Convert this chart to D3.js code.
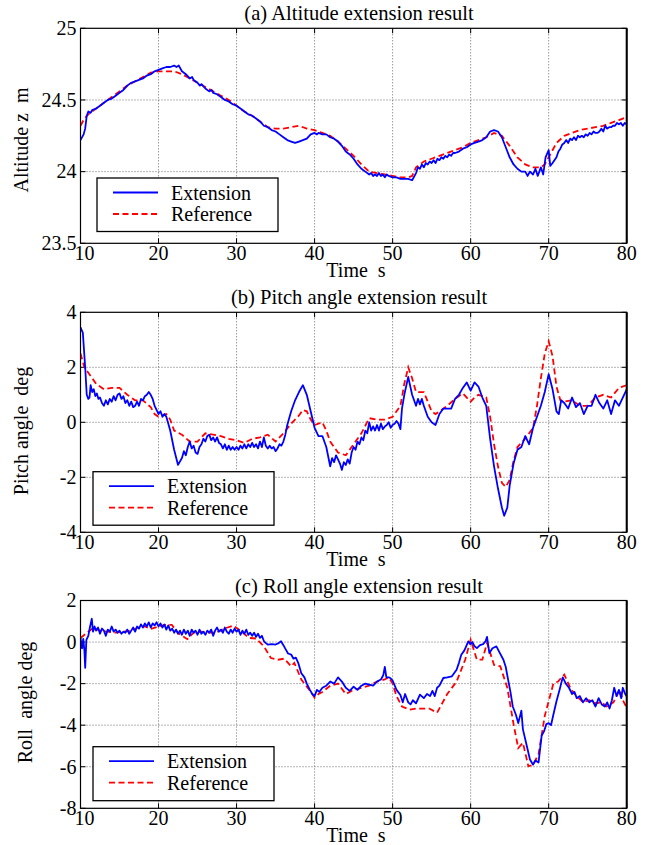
<!DOCTYPE html>
<html><head><meta charset="utf-8">
<script src="https://cdn.jsdelivr.net/npm/d3@7/dist/d3.min.js"></script>
<style>
body{margin:0;background:#fff;}
</style></head><body>
<svg id="c" width="661" height="845" font-family="'Liberation Serif', 'Times New Roman', Tinos, 'DejaVu Serif', serif"></svg>
<script>
// ---------- DATA ----------
const xTicks = [10,20,30,40,50,60,70,80];
const altTicks = [23.5,24,24.5,25];
const pitchTicks = [-4,-2,0,2,4];
const rollTicks = [-8,-6,-4,-2,0,2];
const seriesNames = ["Extension","Reference"];
const titles = ["(a) Altitude extension result","(b) Pitch angle extension result","(c) Roll angle extension result"];
const yLabels = ["Altitude z\u00a0\u00a0m","Pitch angle\u00a0\u00a0deg","Roll\u00a0\u00a0angle deg"];
const xLabel = "Time\u00a0\u00a0s";

const altExt = [[10,24.22],[10.4,24.26],[10.6,24.30],[10.8,24.39],[11,24.42],[11.3,24.41],[11.5,24.43],[12,24.44],[12.5,24.46],[13,24.48],[13.5,24.50],[14,24.51],[14.5,24.53],[15,24.55],[15.5,24.57],[16,24.60],[16.5,24.62],[17,24.63],[17.5,24.64],[18,24.65],[18.5,24.67],[19,24.68],[19.5,24.70],[20,24.71],[20.5,24.72],[21,24.73],[21.5,24.73],[22,24.74],[22.3,24.73],[22.6,24.74],[23,24.70],[23.5,24.68],[24,24.65],[24.3,24.66],[24.5,24.64],[25,24.62],[25.3,24.60],[25.5,24.61],[26,24.58],[26.5,24.56],[26.8,24.57],[27,24.55],[27.5,24.54],[28,24.52],[28.5,24.50],[29,24.49],[29.5,24.47],[30,24.46],[30.5,24.44],[31,24.42],[31.5,24.40],[32,24.39],[32.5,24.37],[33,24.35],[33.5,24.32],[34,24.31],[34.5,24.29],[35,24.28],[35.5,24.26],[36,24.24],[36.5,24.22],[37,24.21],[37.5,24.20],[38,24.21],[38.5,24.22],[39,24.23],[39.5,24.26],[40,24.27],[40.3,24.26],[40.5,24.27],[41,24.26],[41.5,24.26],[42,24.24],[42.5,24.23],[43,24.21],[43.5,24.18],[44,24.14],[44.5,24.12],[45,24.09],[45.5,24.05],[46,24.02],[46.5,24.00],[47,23.98],[47.25,23.99],[47.5,23.97],[47.75,23.98],[48,23.97],[48.25,23.99],[48.5,23.97],[48.75,23.98],[49,23.96],[49.25,23.98],[49.5,23.97],[50,23.96],[50.5,23.96],[51,23.95],[51.5,23.95],[52,23.95],[52.5,23.94],[53,23.99],[53.25,24.03],[53.5,24.02],[53.75,24.05],[54,24.03],[54.25,24.06],[54.5,24.05],[54.75,24.07],[55,24.06],[55.25,24.08],[55.5,24.06],[55.75,24.09],[56,24.08],[56.25,24.10],[56.5,24.09],[56.75,24.11],[57,24.10],[57.25,24.12],[57.5,24.11],[57.75,24.13],[58,24.13],[58.5,24.14],[59,24.16],[59.5,24.17],[60,24.19],[60.5,24.20],[61,24.21],[61.5,24.22],[62,24.24],[62.5,24.28],[63,24.29],[63.5,24.28],[64,24.24],[64.5,24.17],[65,24.10],[65.5,24.05],[66,24.02],[66.5,24.00],[67,24.00],[67.3,23.97],[67.6,24.00],[68,23.98],[68.3,24.02],[68.6,23.97],[69,24.03],[69.3,23.98],[69.6,24.10],[70,24.15],[70.2,24.04],[70.5,24.06],[71,24.10],[71.25,24.14],[71.5,24.16],[71.75,24.19],[72,24.20],[72.25,24.22],[72.5,24.20],[72.75,24.23],[73,24.22],[73.25,24.24],[73.5,24.22],[73.75,24.25],[74,24.24],[74.25,24.25],[74.5,24.24],[74.75,24.26],[75,24.25],[75.25,24.27],[75.5,24.26],[75.75,24.28],[76,24.27],[76.25,24.27],[76.5,24.28],[76.75,24.30],[77,24.28],[77.25,24.32],[77.5,24.30],[77.75,24.31],[78,24.31],[78.25,24.32],[78.5,24.32],[78.75,24.34],[79,24.33],[79.25,24.34],[79.5,24.32],[79.75,24.34],[80,24.33]];
const altRef = [[10,24.32],[10.5,24.37],[11,24.40],[12,24.44],[13,24.48],[14,24.52],[15,24.56],[16,24.60],[17,24.63],[18,24.66],[19,24.69],[20,24.70],[21,24.70],[22,24.70],[23,24.68],[24,24.65],[25,24.62],[26,24.59],[27,24.56],[28,24.53],[29,24.50],[30,24.46],[31,24.42],[32,24.39],[33,24.35],[34,24.31],[35,24.30],[36,24.30],[37,24.31],[38,24.32],[39,24.30],[40,24.29],[41,24.27],[42,24.25],[43,24.21],[44,24.16],[45,24.11],[46,24.05],[47,24.00],[48,23.99],[49,23.98],[50,23.97],[51,23.96],[52,23.96],[52.5,23.97],[53,24.03],[54,24.07],[55,24.09],[56,24.11],[57,24.13],[58,24.15],[59,24.17],[60,24.20],[61,24.22],[62,24.24],[63,24.27],[64,24.25],[65,24.18],[66,24.10],[67,24.05],[68,24.03],[69,24.03],[69.5,24.05],[70,24.10],[71,24.20],[72,24.25],[73,24.27],[74,24.29],[75,24.30],[76,24.31],[77,24.32],[78,24.34],[79,24.36],[80,24.38]];

const pitchExt = [[10,3.45],[10.3,3.25],[10.6,2.0],[10.8,1.0],[11,0.85],[11.15,0.9],[11.3,1.35],[11.5,1.1],[11.7,1.2],[11.9,0.95],[12.1,1.05],[12.3,0.85],[12.5,0.9],[12.75,0.7],[13,0.6],[13.25,0.8],[13.5,0.65],[13.75,0.85],[14,0.75],[14.25,0.95],[14.5,0.8],[14.75,1.0],[15,1.05],[15.25,0.85],[15.5,0.95],[15.75,0.7],[16,0.8],[16.25,0.6],[16.5,0.75],[16.75,0.55],[17,0.6],[17.25,0.75],[17.5,0.6],[17.75,0.85],[18,0.8],[18.25,0.95],[18.5,1.0],[18.75,1.1],[19,1.0],[19.25,0.85],[19.5,0.6],[19.75,0.45],[20,0.3],[20.25,0.4],[20.5,0.2],[20.75,0.3],[21,0.2],[21.5,-0.3],[22,-1.0],[22.5,-1.55],[23,-1.3],[23.25,-1.05],[23.5,-1.2],[23.75,-0.9],[24,-0.7],[24.25,-0.95],[24.5,-0.85],[24.75,-1.1],[25,-1.15],[25.25,-0.9],[25.5,-0.8],[25.75,-0.6],[26,-0.7],[26.25,-0.5],[26.5,-0.45],[26.75,-0.65],[27,-0.55],[27.25,-0.7],[27.5,-0.55],[27.75,-0.75],[28,-0.8],[28.25,-0.95],[28.5,-0.8],[28.75,-1.0],[29,-0.85],[29.25,-1.0],[29.5,-0.9],[29.75,-1.0],[30,-0.9],[30.25,-1.0],[30.5,-0.85],[30.75,-0.95],[31,-0.8],[31.25,-0.95],[31.5,-0.8],[31.75,-0.9],[32,-0.75],[32.25,-0.9],[32.5,-0.8],[32.75,-0.95],[33,-0.7],[33.25,-0.9],[33.5,-0.55],[33.75,-0.85],[34,-0.95],[34.25,-0.85],[34.5,-0.95],[34.75,-0.9],[35,-1.05],[35.25,-0.95],[35.5,-0.8],[35.75,-0.85],[36,-0.7],[36.25,-0.45],[36.5,-0.1],[37,0.4],[37.5,0.8],[38,1.1],[38.5,1.35],[39,1.0],[39.5,0.4],[40,-0.2],[40.5,-0.5],[41,-0.5],[41.5,-0.9],[42,-1.6],[42.25,-1.3],[42.5,-1.45],[42.75,-1.2],[43,-1.35],[43.25,-1.5],[43.5,-1.73],[43.75,-1.45],[44,-1.55],[44.25,-1.35],[44.5,-1.5],[44.75,-1.1],[45,-0.9],[45.25,-1.0],[45.5,-0.7],[45.75,-0.8],[46,-0.55],[46.25,-0.65],[46.5,-0.3],[46.75,-0.4],[47,0.0],[47.25,-0.3],[47.5,-0.15],[47.75,-0.3],[48,-0.1],[48.25,-0.3],[48.5,-0.05],[48.75,-0.25],[49,-0.15],[49.25,-0.1],[49.5,0.0],[49.75,-0.2],[50,-0.1],[50.25,-0.05],[50.5,0.05],[50.75,-0.05],[51,-0.25],[51.2,0.5],[51.5,1.0],[52,1.65],[52.5,1.0],[53,0.6],[53.25,0.85],[53.5,0.65],[53.75,0.85],[54,0.6],[54.5,0.2],[55,0.0],[55.5,-0.1],[56,0.3],[56.5,0.5],[57,0.5],[57.5,0.5],[58,0.85],[58.5,1.0],[59,1.25],[59.5,1.45],[60,1.15],[60.5,1.45],[61,1.3],[61.5,0.9],[62,0.6],[62.5,-0.6],[63,-1.6],[63.5,-2.4],[64,-3.1],[64.3,-3.4],[64.7,-3.1],[65,-2.3],[65.5,-1.5],[66,-1.0],[66.5,-0.9],[67,-0.5],[67.5,-0.8],[68,-0.2],[68.5,0.2],[69,0.6],[69.5,1.1],[70,1.75],[70.5,1.2],[71,0.4],[71.3,0.3],[71.6,0.8],[72,0.7],[72.5,0.5],[73,0.9],[73.5,0.55],[74,0.7],[74.5,0.3],[75,0.6],[75.5,0.6],[76,1.0],[76.5,0.7],[77,0.5],[77.5,0.8],[78,0.3],[78.5,0.8],[79,0.6],[79.5,0.9],[80,1.2]];
const pitchRef = [[10,2.5],[10.5,2.0],[11,1.8],[12,1.4],[13,1.2],[14,1.25],[15,1.25],[16,1.0],[17,0.8],[18,0.8],[19,0.55],[19.5,0.3],[20,0.2],[21,0.3],[21.5,0.1],[22,-0.3],[23,-0.45],[24,-0.7],[25,-0.7],[26,-0.4],[27,-0.45],[28,-0.5],[29,-0.6],[30,-0.65],[31,-0.75],[32,-0.6],[33,-0.55],[34,-0.45],[35,-0.7],[36,-0.4],[37,-0.05],[38,0.25],[38.5,0.45],[39,0.4],[39.5,0.1],[40,-0.1],[40.5,-0.05],[41,0.0],[41.5,-0.3],[42,-0.7],[43,-1.1],[44,-1.2],[45,-0.8],[46,-0.4],[47,0.15],[48,0.1],[49,0.1],[50,0.2],[51,0.6],[51.5,1.4],[52,2.0],[52.5,1.6],[53,1.1],[54,1.1],[55,0.4],[55.5,0.3],[56,0.4],[57,0.6],[58,0.85],[59,1.05],[60,0.75],[60.5,0.9],[61,1.0],[62,0.9],[62.5,0.2],[63,-0.8],[63.5,-1.6],[64,-2.2],[64.5,-2.35],[65,-2.1],[65.5,-1.4],[66,-0.9],[67,-0.6],[68,-0.2],[68.5,0.6],[69,1.6],[69.5,2.5],[70,2.95],[70.5,2.4],[71,1.3],[71.5,0.8],[72,0.75],[73,0.8],[74,0.6],[75,0.6],[76,0.9],[77,1.0],[78,0.9],[79,1.25],[80,1.35]];

const rollExt = [[10,0.2],[10.2,-0.3],[10.35,0.15],[10.5,-0.4],[10.6,-1.24],[10.75,0.1],[11,0.3],[11.2,0.7],[11.45,1.12],[11.6,0.5],[11.8,0.75],[12,0.55],[12.25,0.7],[12.5,0.4],[12.75,0.65],[13,0.55],[13.25,0.3],[13.5,0.6],[13.75,0.5],[14,0.75],[14.25,0.5],[14.5,0.6],[14.75,0.45],[15,0.55],[15.25,0.4],[15.5,0.5],[15.75,0.45],[16,0.6],[16.25,0.4],[16.5,0.55],[16.75,0.7],[17,0.5],[17.25,0.75],[17.5,0.65],[17.75,0.85],[18,0.7],[18.25,0.9],[18.5,0.75],[18.75,0.95],[19,0.7],[19.25,0.9],[19.5,0.8],[19.75,0.95],[20,0.75],[20.25,0.9],[20.5,0.7],[20.75,0.85],[21,0.6],[21.25,0.8],[21.5,0.55],[21.75,0.65],[22,0.45],[22.25,0.6],[22.5,0.4],[22.75,0.55],[23,0.35],[23.25,0.6],[23.5,0.4],[23.75,0.55],[24,0.3],[24.25,0.6],[24.5,0.45],[24.75,0.55],[25,0.35],[25.25,0.6],[25.5,0.4],[25.75,0.5],[26,0.35],[26.25,0.55],[26.5,0.45],[26.75,0.6],[27,0.3],[27.25,0.55],[27.5,0.7],[27.75,0.5],[28,0.6],[28.25,0.45],[28.5,0.7],[28.75,0.5],[29,0.4],[29.25,0.6],[29.5,0.45],[29.75,0.65],[30,0.5],[30.25,0.6],[30.5,0.35],[30.75,0.55],[31,0.4],[31.25,0.6],[31.5,0.35],[31.75,0.45],[32,0.3],[32.25,0.45],[32.5,0.25],[32.75,0.4],[33,0.2],[33.25,0.3],[33.5,0.05],[33.75,-0.05],[34,-0.12],[34.5,-0.1],[35,-0.12],[35.4,-0.05],[35.7,0.04],[36,-0.15],[36.3,-0.35],[36.6,-0.55],[37,-0.6],[37.3,-0.8],[37.6,-0.75],[37.9,-1.0],[38.3,-1.5],[38.7,-1.7],[39,-2.0],[39.4,-2.3],[39.7,-2.5],[40,-2.6],[40.3,-2.3],[40.6,-2.4],[41,-2.2],[41.5,-2.1],[42,-1.9],[42.5,-2.0],[43,-1.7],[43.5,-1.9],[44,-2.2],[44.5,-2.35],[45,-2.15],[45.5,-2.3],[46,-2.1],[46.5,-2.0],[47,-2.05],[47.5,-2.1],[48,-1.9],[48.5,-1.8],[48.8,-1.6],[49,-1.2],[49.2,-1.7],[49.5,-1.7],[49.7,-1.73],[50,-1.85],[50.5,-2.3],[51,-2.55],[51.3,-2.9],[51.6,-2.5],[52,-2.9],[52.3,-3.0],[52.6,-2.8],[53,-2.95],[53.5,-2.53],[54,-2.7],[54.4,-2.5],[54.8,-2.6],[55.1,-2.35],[55.4,-2.6],[55.7,-2.2],[56,-2.1],[56.5,-1.73],[57,-1.7],[57.6,-1.65],[58.2,-1.33],[58.5,-1.0],[58.8,-0.61],[59.2,-0.4],[59.7,0.03],[60,-0.1],[60.2,0.0],[60.5,-0.2],[60.8,-0.29],[61.2,-0.15],[61.6,-0.1],[61.9,0.03],[62.1,0.25],[62.4,-0.53],[62.8,-0.3],[63.3,-0.21],[63.7,-0.5],[64.2,-0.85],[64.5,-1.2],[64.8,-1.81],[65.1,-2.4],[65.4,-3.1],[65.8,-3.5],[66.1,-3.9],[66.5,-3.3],[66.7,-4.2],[67.2,-5.0],[67.6,-5.65],[68,-5.9],[68.3,-5.7],[68.7,-5.8],[69.1,-4.5],[69.4,-4.3],[69.7,-3.95],[70,-3.9],[70.3,-4.0],[70.6,-3.5],[71,-2.85],[71.4,-2.3],[71.8,-1.7],[72.2,-2.0],[72.6,-2.2],[73,-2.5],[73.3,-2.4],[73.6,-2.7],[74,-2.6],[74.4,-2.9],[74.8,-2.7],[75.2,-2.9],[75.6,-2.8],[76,-3.1],[76.4,-2.7],[76.8,-3.0],[77.2,-3.1],[77.5,-2.9],[77.8,-3.2],[78.1,-2.8],[78.4,-2.2],[78.7,-2.6],[79,-2.3],[79.3,-2.7],[79.5,-2.2],[79.8,-2.5],[80,-2.6]];
const rollRef = [[10,0.19],[11,0.5],[11.6,0.67],[12.5,0.55],[13.5,0.5],[14.5,0.45],[15.5,0.5],[16.5,0.55],[17.5,0.72],[18.3,0.75],[19,0.63],[20,0.75],[20.8,0.83],[21.7,0.83],[22.5,0.43],[23.7,0.14],[24.5,0.45],[25.5,0.5],[26.5,0.45],[27.3,0.45],[28.6,0.67],[29.6,0.79],[30.5,0.55],[31.6,0.2],[32.5,0.17],[33.5,-0.2],[34.4,-0.77],[35.3,-0.85],[36.1,-0.8],[37,-1.17],[37.4,-1.0],[38.3,-1.8],[39.6,-2.44],[40,-2.68],[40.5,-2.5],[41,-2.4],[42,-2.1],[43,-2.0],[44,-2.5],[45,-2.3],[46,-2.2],[47,-2.1],[48,-1.9],[49,-1.8],[49.5,-1.7],[50,-2.0],[50.5,-2.6],[51.2,-3.1],[52.2,-3.25],[53,-3.2],[54,-3.2],[54.7,-3.2],[55.7,-3.4],[57,-2.5],[58.2,-1.9],[59.3,-0.85],[60,0.11],[60.8,-0.85],[61.5,-0.85],[62.1,-0.05],[63,-1.1],[63.8,-1.17],[64.7,-2.2],[65.5,-3.95],[66.1,-5.1],[66.7,-4.85],[67.4,-5.98],[68,-5.9],[68.7,-5.4],[69.5,-3.55],[70.6,-2.0],[71.2,-1.9],[72,-1.57],[72.9,-2.3],[73.6,-2.6],[74.4,-2.9],[75.2,-2.8],[76.1,-2.95],[76.8,-2.9],[77.4,-3.1],[78.3,-2.9],[79.1,-2.3],[79.5,-2.8],[80,-3.15]];

// ---------- LAYOUT ----------
const svg = d3.select("#c");
const L = 80.5, R = 626.7;
const panels = [
  {top:28.3, bottom:243.3, dom:[23.5,25], ticks:altTicks, ext:altExt, ref:altRef,
   leg:{x:97, y:178, w:181, h:53.5}, ylabX:27.5, ylabY:140},
  {top:312.3, bottom:532.3, dom:[-4,4], ticks:pitchTicks, ext:pitchExt, ref:pitchRef,
   leg:{x:93, y:471.7, w:181, h:53.5}, ylabX:28.3, ylabY:431},
  {top:600.5, bottom:808.3, dom:[-8,2], ticks:rollTicks, ext:rollExt, ref:rollRef,
   leg:{x:93, y:746.7, w:181, h:54}, ylabX:32, ylabY:702.5}
];
const FS = 20;

panels.forEach((p,i)=>{
  const x = d3.scaleLinear().domain([10,80]).range([L,R]);
  const y = d3.scaleLinear().domain(p.dom).range([p.bottom,p.top]);
  const g = svg.append("g");
  const cid = "clip"+i;
  svg.append("clipPath").attr("id",cid).append("rect")
     .attr("x",L).attr("y",p.top).attr("width",R-L).attr("height",p.bottom-p.top);

  g.selectAll(".gx").data(xTicks.slice(1,-1)).join("line")
   .attr("x1",d=>x(d)).attr("x2",d=>x(d)).attr("y1",p.top).attr("y2",p.bottom)
   .attr("stroke","#444").attr("stroke-width",0.8).attr("stroke-dasharray","1,2");
  g.selectAll(".gy").data(p.ticks.slice(1,-1)).join("line")
   .attr("y1",d=>y(d)).attr("y2",d=>y(d)).attr("x1",L).attr("x2",R)
   .attr("stroke","#444").attr("stroke-width",0.8).attr("stroke-dasharray","1,2");

  const tl = 5;
  xTicks.forEach(t=>{
    g.append("line").attr("x1",x(t)).attr("x2",x(t)).attr("y1",p.bottom).attr("y2",p.bottom-tl).attr("stroke","#000");
    g.append("line").attr("x1",x(t)).attr("x2",x(t)).attr("y1",p.top).attr("y2",p.top+tl).attr("stroke","#000");
  });
  p.ticks.forEach(t=>{
    g.append("line").attr("y1",y(t)).attr("y2",y(t)).attr("x1",L).attr("x2",L+tl).attr("stroke","#000");
    g.append("line").attr("y1",y(t)).attr("y2",y(t)).attr("x1",R).attr("x2",R-tl).attr("stroke","#000");
  });

  const line = d3.line().x(d=>x(d[0])).y(d=>y(d[1]));
  const lg = g.append("g").attr("clip-path",`url(#${cid})`);
  lg.append("path").datum(p.ref).attr("d",line).attr("fill","none")
    .attr("stroke","#ff0000").attr("stroke-width",1.8).attr("stroke-dasharray","6,3.5");
  lg.append("path").datum(p.ext).attr("d",line).attr("fill","none")
    .attr("stroke","#0000ff").attr("stroke-width",1.8).attr("stroke-linejoin","round");

  g.append("rect").attr("x",L).attr("y",p.top).attr("width",R-L).attr("height",p.bottom-p.top)
   .attr("fill","none").attr("stroke","#000").attr("stroke-width",1.2);
  g.append("line").attr("x1",R).attr("x2",R).attr("y1",p.top).attr("y2",p.bottom)
   .attr("stroke","#000").attr("stroke-width",2);

  g.selectAll(".xt").data(xTicks).join("text")
   .attr("x",(d,j)=>x(d)+(j===0?4:0)).attr("y",p.bottom+16.5)
   .attr("text-anchor","middle").attr("font-size",FS).text(d=>d);
  g.selectAll(".yt").data(p.ticks).join("text")
   .attr("x",L-4).attr("y",d=>y(d)).attr("dy","0.34em")
   .attr("text-anchor","end").attr("font-size",FS).text(d=>String(d));

  g.append("text").attr("x",356).attr("y",p.bottom+33.5).attr("text-anchor","middle")
   .attr("font-size",FS).text(xLabel);
  g.append("text").attr("x",359).attr("y",p.top-8).attr("text-anchor","middle")
   .attr("font-size",FS+0.6).text(titles[i]);
  g.append("text").attr("transform",`translate(${p.ylabX},${p.ylabY}) rotate(-90)`)
   .attr("text-anchor","middle").attr("font-size",FS).text(yLabels[i]);

  const lgd = g.append("g").attr("transform",`translate(${p.leg.x},${p.leg.y})`);
  lgd.append("rect").attr("width",p.leg.w).attr("height",p.leg.h).attr("fill","#fff")
     .attr("stroke","#000").attr("stroke-width",1.3);
  const rows = [14.5, 36];
  seriesNames.forEach((s,k)=>{
    lgd.append("line").attr("x1",16).attr("x2",61).attr("y1",rows[k]).attr("y2",rows[k])
       .attr("stroke",k===0?"#0000ff":"#ff0000").attr("stroke-width",1.8)
       .attr("stroke-dasharray",k===0?null:"6,3.5");
    lgd.append("text").attr("x",74).attr("y",rows[k]).attr("dy","0.35em")
       .attr("font-size",FS).text(s);
  });
});
</script>
</body></html>
